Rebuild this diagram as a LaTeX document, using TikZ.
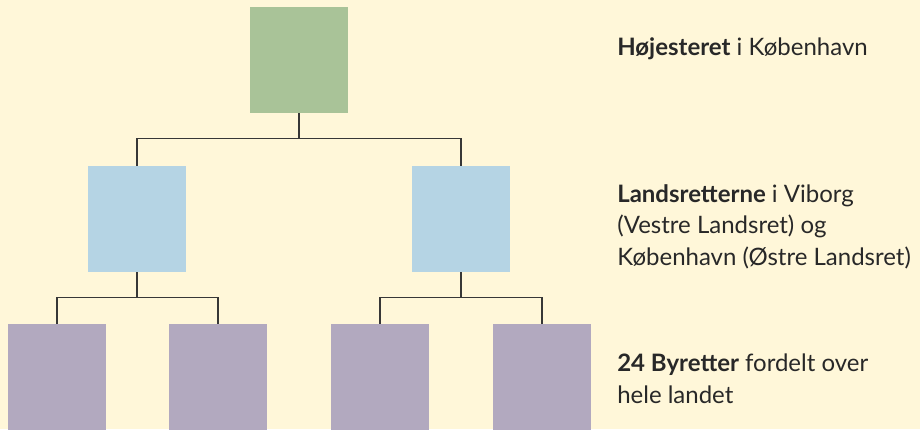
\documentclass[tikz,border=0pt]{standalone}
\usepackage{fontspec}
\setmainfont{Lato}
\usepackage{tikz}

\definecolor{cream}{RGB}{255,247,217}
\definecolor{hrgreen}{RGB}{169,195,152}
\definecolor{lrblue}{RGB}{181,212,228}
\definecolor{brpurple}{RGB}{178,169,191}
\definecolor{linegray}{RGB}{55,55,55}
\definecolor{textgray}{RGB}{40,40,40}

\tikzset{
  court/.style={minimum width=73.5pt, minimum height=79.5pt, inner sep=0pt},
  branch/.style={draw=linegray, line width=1pt},
  caption/.style={anchor=base west, inner sep=0pt, align=left, text=textgray,
    font=\fontsize{18}{23.6}\selectfont}
}

\begin{document}
\begin{tikzpicture}[x=0.75pt, y=-0.75pt]
  \fill[cream] (0,0) rectangle (920,429);
  \useasboundingbox (0,0) rectangle (920,429);

  \node [court, fill=hrgreen] (H) at (299,60) {};

  \node [court, fill=lrblue] (V) at (137,219) {};
  \node [court, fill=lrblue] (O) at (461,219) {};

  \node [court, fill=brpurple, minimum height=81pt] (V1) at (57,378) {};
  \node [court, fill=brpurple, minimum height=81pt] (V2) at (218,378) {};
  \node [court, fill=brpurple, minimum height=81pt] (O1) at (380,378) {};
  \node [court, fill=brpurple, minimum height=81pt] (O2) at (542,378) {};

  \draw [branch] (H.south) -- ++(0,25) -| (V.north);
  \draw [branch] (H.south) -- ++(0,25) -| (O.north);
  \draw [branch] (V.south) -- ++(0,25) -| (V1.north);
  \draw [branch] (V.south) -- ++(0,25) -| (V2.north);
  \draw [branch] (O.south) -- ++(0,25) -| (O1.north);
  \draw [branch] (O.south) -- ++(0,25) -| (O2.north);

  % base of a multi-line caption is its last line
  \node [caption] (tH) at (617,55) {\textbf{Højesteret} i København};
  \node [caption] (tL) at (617,265) {\textbf{Landsretterne} i Viborg\\(Vestre Landsret) og\\København (Østre Landsret)};
  \node [caption] (tB) at (617,403) {\textbf{24 Byretter} fordelt over\\hele landet};
\end{tikzpicture}
\end{document}
